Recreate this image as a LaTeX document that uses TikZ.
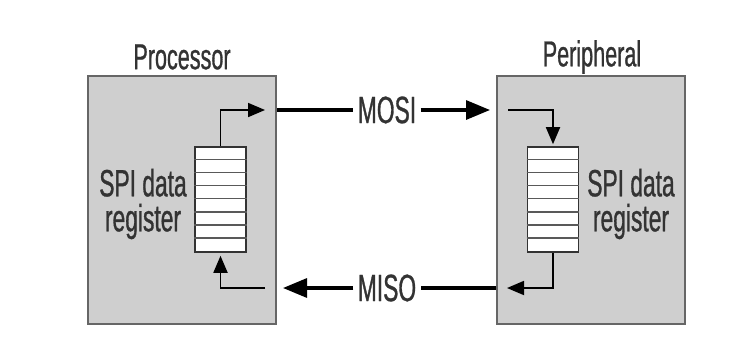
\documentclass[tikz,border=0pt]{standalone}
\usepackage{fontspec}
\setmainfont[FakeStretch=0.6,FakeBold=0.8]{Liberation Sans}
\usetikzlibrary{arrows.meta}

\tikzset{
  unit/.style={draw=black!60, line width=2.6pt, fill=black!19, minimum width=188pt, minimum height=248pt},
  reg/.style={draw=black!80, line width=1.6pt, fill=white, minimum width=51pt, minimum height=105pt},
  regline/.style={draw=black!65, line width=1.6pt},
  title/.style={text=black!80, font=\fontsize{36}{40}\selectfont},
  lbl/.style={text=black!80, align=center, font=\fontsize{38}{35}\selectfont},
  bus/.style={line width=3.2pt},
  loc/.style={line width=1.8pt, >={Triangle[length=17pt,width=14pt]}},
}

\begin{document}
\begin{tikzpicture}[x=1pt,y=-1pt,>={Triangle[length=24pt,width=19pt]}]
  \useasboundingbox (0,0) rectangle (736,356);

  % the two units
  \node[unit] (proc)   at (182,200) {};
  \node[unit] (periph) at (591,200) {};
  \node[title] (proctxt)   at (182,57) {Processor};
  \node[title] (periphtxt) at (592,57) {Peripheral};

  % shift registers
  \node[reg] (regL) at (220.5,199.5) {};
  \node[reg] (regR) at (553,199.5) {};
  \foreach \r in {regL,regR}
    \foreach \i in {1,...,7}
      \draw[regline] ([yshift=-\i*13.1pt]\r.north west) -- ([yshift=-\i*13.1pt]\r.north east);

  \node[lbl] (spiL) at (143,204) {SPI data\\register};
  \node[lbl] (spiR) at (631,204) {SPI data\\register};

  % bus lines
  \node[lbl] (mosi) at (387,110) {MOSI};
  \node[lbl] (miso) at (387,288) {MISO};

  \coordinate (outL) at (265,110);
  \coordinate (inR)  at (508,110);
  \coordinate (outR) at (507,288);
  \coordinate (inL)  at (265,288);

  \draw[bus] (proc.east |- mosi) -- ([xshift=-1pt]mosi.west);
  \draw[bus,->] ([xshift=1pt]mosi.east) -- (490,110);
  \draw[bus] (periph.west |- miso) -- ([xshift=1pt]miso.east);
  \draw[bus,->] ([xshift=-1pt]miso.west) -- (283,288);

  \draw[loc,->] (regL.north) |- (outL);
  \draw[loc,->] (inR) -| ([yshift=2pt]regR.north);
  \draw[loc,->] (regR.south) |- (outR);
  \draw[loc,->] (inL) -| ([yshift=-3pt]regL.south);
\end{tikzpicture}
\end{document}
